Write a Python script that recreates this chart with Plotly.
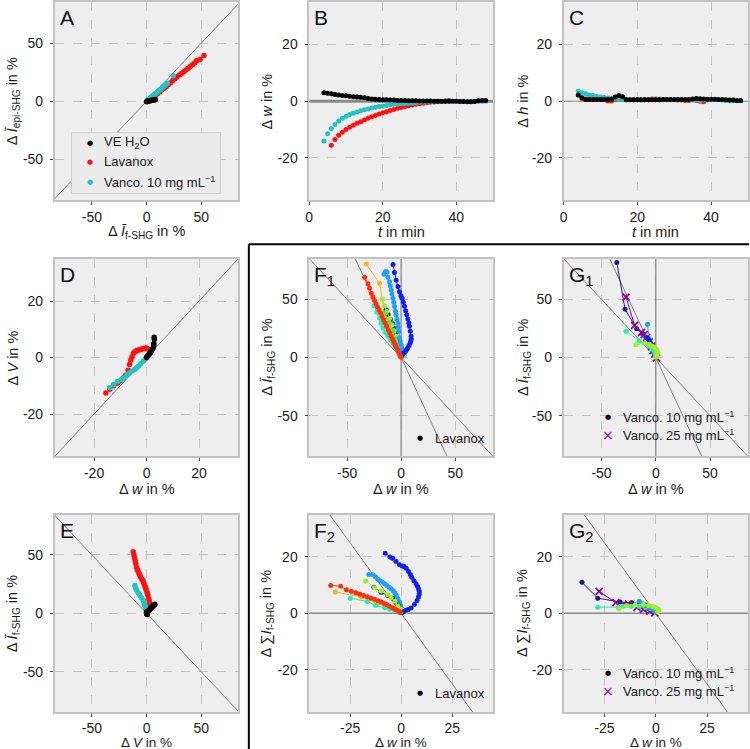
import plotly.graph_objects as go

W, H = 750, 749

# ---------------- data ----------------
# Panel A : dI_epi vs dI_f
A_black_x = [0, 0.5, 1, 1.5, 2, 3, 4, 5, 6, 7, 8, 7.5]
A_black_y = [-0.5, 0, -0.3, 0.2, 0.5, 0.3, 0.6, 0.8, 1.0, 1.2, 1.3, 1.6]
A_red_x = [2, 4, 6, 8, 10, 12, 14, 16, 18, 20, 22, 24, 26, 28, 30, 32, 34, 36, 38, 40, 42, 44, 46, 49, 52.5]
A_red_y = [0.5, 1.8, 3.2, 4.8, 6.4, 8.0, 9.6, 11.2, 12.8, 14.5, 16.0, 17.8, 19.3, 21.0, 22.5, 24.0, 25.5, 27.0, 28.5, 30.0, 31.5, 33.0, 35.0, 36.0, 39.5]
A_cyan_x = [1, 2, 3, 4, 5, 6, 7, 8, 9, 10, 11, 12, 13, 14, 15, 16, 17, 19, 24.5]
A_cyan_y = [0.8, 1.6, 2.4, 3.2, 4.0, 4.8, 5.6, 6.4, 7.2, 8.0, 8.8, 9.6, 10.4, 11.3, 12.2, 13.0, 14.0, 15.5, 22.0]

# Panel B : dw vs t ; Panel C : dh vs t
t_long = [4, 5, 6, 7, 8, 9, 10, 11, 12, 13, 14, 15, 16, 17, 18, 19, 20, 21, 22, 23, 24, 25, 26,
          27, 28, 29, 30, 31, 32, 33, 34, 35, 36, 37, 38, 39, 40, 41, 42, 43, 44, 45, 46, 47, 48]
t_red_B = [6, 7, 8, 9, 10, 11, 12, 13, 14, 15, 16, 17, 18, 19, 20, 21, 22, 23, 24, 25, 26, 27,
           28, 29, 30, 31, 32, 33, 34, 35, 36, 37, 38]
t_red_C = [5, 6, 7, 8, 9, 10, 11, 12, 13, 14, 15, 16, 17, 18, 19, 20, 21, 22, 23, 24, 25, 26,
           27, 28, 29, 30, 31, 32, 33, 34, 35, 36, 37, 38]
B_black = [3.0, 2.8, 2.6, 2.4, 2.2, 2.0, 1.9, 1.8, 1.6, 1.5, 1.4, 1.2, 1.0, 0.8, 0.7, 0.6, 0.5, 0.5,
           0.4, 0.4, 0.3, 0.3, 0.3, 0.2, 0.2, 0.2, 0.1, 0.1, 0.1, 0.1, 0.0, 0.0, 0.0, 0.0, 0.0, 0.0,
           0.0, -0.1, -0.1, -0.2, -0.2, -0.1, 0.2, 0.3, 0.3]
B_cyan = [-14.0, -11.5, -9.6, -8.2, -7.0, -6.0, -5.3, -4.7, -4.2, -3.8, -3.4, -3.0, -2.7, -2.4, -2.1,
          -1.9, -1.7, -1.5, -1.3, -1.1, -1.0, -0.9, -0.8, -0.7, -0.6, -0.5, -0.4, -0.3, -0.3, -0.2,
          -0.2, -0.1, -0.1, -0.1, 0.0, 0.0, 0.0, 0.0, 0.0, 0.0, 0.0, 0.0, 0.0, 0.0, 0.0]
B_red = [-15.5, -13.5, -12.0, -10.9, -10.0, -9.2, -8.5, -7.8, -7.2, -6.6, -6.0, -5.5, -5.0, -4.5,
         -4.1, -3.7, -3.3, -2.9, -2.5, -2.2, -1.9, -1.6, -1.3, -1.1, -0.9, -0.7, -0.5, -0.4, -0.3,
         -0.2, -0.1, 0.1, 0.3]
C_cyan = [3.5, 3.1, 2.6, 2.2, 2.0, 1.7, 1.5, 1.3, 1.1, 1.0, 0.9, 0.8, 0.6, 0.5, 0.5, 0.5, 0.5, 0.5,
          0.5, 0.5, 0.5, 0.5, 0.5, 0.5, 0.5, 0.5, 0.5, 0.5, 0.5, 0.5, 0.5, 0.4, 0.4, 0.3, 0.4, 0.5,
          0.5, 0.5, 0.5, 0.4, 0.3, 0.2, 0.2, 0.2, 0.2]
C_black = [2.2, 1.2, 0.6, 0.6, 0.6, 0.6, 0.6, 0.6, 0.6, 0.7, 1.5, 2.0, 1.6, 0.5, 0.5, 0.5, 0.5, 0.5,
           0.5, 0.5, 0.5, 0.5, 0.5, 0.6, 0.6, 0.6, 0.6, 0.6, 0.6, 0.6, 0.6, 0.8, 1.0, 0.9, 0.8, 0.7,
           0.7, 0.7, 0.6, 0.6, 0.5, 0.4, 0.4, 0.3, 0.3]
C_red = [1.0, 0.8, 0.6, 0.6, 0.6, 0.6, 0.6, 0.1, 0.1, 0.6, 0.8, 0.6, 0.5, 0.5, 0.5, 0.5, 0.5, 0.6,
         0.6, 0.8, 0.8, 0.7, 0.6, 0.5, 0.5, 0.5, 0.4, 0.4, 0.3, 0.3, 0.5, 0.3, 0.0, -0.2]

# Panel D : dV vs dw
D_red_x = [-15.5, -14, -12.5, -11, -10, -9, -8, -7, -6.5, -6, -5.5, -5, -4.5, -4, -3.5, -3, -2.5, -2, -1.5, -1, -0.5, 0, 0.5]
D_red_y = [-12.5, -11.2, -10, -9, -8.2, -7.3, -6.3, -4.5, -2.5, -1.0, 0.3, 1.5, 2.0, 2.3, 2.5, 2.7, 2.8, 3.0, 3.1, 3.2, 3.3, 3.4, 3.0]
D_cyan_x = [-14, -12.5, -11, -9.5, -8.75, -7.5, -6.5, -5.5, -4.5, -3.75, -3, -2.2, -1.25, -0.5, 0]
D_cyan_y = [-10.7, -9.5, -8.5, -7.8, -7.2, -6.3, -5.5, -4.8, -4.2, -3.6, -3.0, -2.2, -1.3, -0.6, 0]
D_black_x = [0, 0.3, 0.6, 1, 1.3, 1.6, 1.9, 2.2, 2.5, 2.7, 2.8, 3, 2.9]
D_black_y = [0, 0.4, 0.8, 1.2, 1.6, 2.0, 2.4, 2.9, 3.5, 4.2, 5.0, 6.5, 7.2]

# Panel E : dI_f vs dV
E_red_x = [-12.2, -11.5, -11, -10.4, -9.8, -9.1, -8.4, -7.6, -6.8, -6, -5.2, -4.4, -3.6, -3, -2.4, -1.8, -1.2, -0.6, 0, 0.6, 1.2, 1.8, 2.4, 3, 3.3, 3.5]
E_red_y = [52.8, 50, 47.5, 45.3, 42.5, 39.5, 37.4, 35.6, 34, 32.5, 31, 29.5, 28.5, 27, 25.5, 24, 22.5, 21, 19.6, 17.5, 15.5, 13, 11, 8.5, 6.8, 5]
E_cyan_x = [-10.7, -9.8, -9, -7.5, -6, -4.5, -3, -2.2, -1.5, -0.8, 0]
E_cyan_y = [23.9, 21.5, 19.6, 17.5, 15.3, 13.2, 11, 9, 6.8, 4.7, 2.6]
E_black_x = [0, 0.3, 0.8, 1.5, 2.2, 3, 3.8, 4.6, 5.4, 6.2, 7, 7.6, 0, 0.5]
E_black_y = [0, -0.5, 1, 1.8, 2.6, 3.4, 4.2, 5, 5.8, 6.5, 7.2, 7.8, 1.2, -1.0]

# Panel F1 : dI_f vs dw (Lavanox samples)
F1_blue_x = [-7.5, -6.2, -4.6, -3, -1.5, -0.2, 0.9, 2, 3.1, 4.2, 5.2, 6.2, 7.1, 7.7, 8.5, 9.2, 9.3, 8.9, 8.3, 7.3, 6.1, 5, 4, 2.8, 1.5, 0.5]
F1_blue_y = [80, 73, 66.5, 61, 56.5, 53, 51, 47.5, 44, 40.3, 36.7, 33.3, 30, 26.8, 22.5, 18.2, 16, 14, 12.5, 10.3, 8.2, 6.8, 5.4, 4.2, 3.2, 1.5]
F1_azure_x = [-15.8, -14.4, -13, -12.2, -10.7, -10, -9.2, -8.4, -7.6, -6.8, -6.1, -5.3, -4.6, -3.8, -3.1, -2.6, -2.1, -1.5, -0.8, 0, 0.6, 0.9, 0.4]
F1_azure_y = [71.5, 74, 73.5, 69, 65.2, 61.5, 58.1, 54.5, 51, 47.5, 43.8, 40, 36.7, 33, 29.6, 26, 22.5, 16.8, 13.8, 11, 8, 5.4, 1.5]
F1_orange_x = [-32.2, -20, -17.5, -15.3, -13, -10.7, -8.4, -6.1, -3.8, -1.5, 0]
F1_orange_y = [80.3, 63.8, 50, 39.6, 33.5, 28.2, 23, 18.2, 14, 9.7, 4]
F1_red_x = [-33.8, -30.7, -29.2, -27.6, -26.1, -24.6, -23.2, -21.8, -20.4, -19, -17.6, -16.2, -14.8, -13.4, -12, -10.6, -9.3, -8, -6.8, -5.6, -4.5, -3.4, -2.4, -1.5, -0.7, 0]
F1_red_y = [68.9, 63.5, 59.5, 55.2, 52, 49, 46.2, 43.5, 40.8, 38, 35.2, 32.4, 29.6, 26.8, 24, 21.2, 18.6, 16, 13.6, 11.2, 9, 6.8, 4.8, 3, 1.4, 0.3]
F1_green_x = [-17.5, -15.3, -13.2, -10.8, -8.3, -6.4, -4.6, -2.3, 0, 1.5, 3, 2, 0.8]
F1_green_y = [50, 44.5, 39.6, 33.5, 28.2, 23, 18.2, 14, 9.7, 6.5, 4, 2, 0.8]
F1_teal_x = [-25.1, -22.5, -20, -18.5, -16.9, -14.5, -12.3, -10, -7.6, -5.3, -3.1, -1.5, 0]
F1_teal_y = [44.4, 39, 33.8, 29.5, 25.3, 21.5, 18.2, 15, 12, 9.3, 6.8, 4.3, 2]
F1_navy_x = [-13.8, -12, -10, -8, -6.5, -5, -3.5, -2, -1, 0, 0.5]
F1_navy_y = [41, 37, 33, 29, 25, 21, 17, 13, 9, 5, 2]
F1_lime_x = [-15, -11, -8, -5, -2.5, -0.5, 0.5, 2.5, 4, 3]
F1_lime_y = [38, 30, 23, 16, 10, 5, 1.5, 4.5, 6, 2]

# Panel G1 : dI_f vs dw (Vancomycin samples)
G1_navy_x = [-35.9, -28.3, -17.6, -12.2, -9, -6.5, -4.5, -3, -1.8, -0.8, 0]
G1_navy_y = [81.7, 41.5, 24.8, 20.5, 17.5, 14.5, 11.5, 9, 6.5, 4, 1.5]
G1_purple_x = [-27.4, -19.5, -13.1, -10.7, -8.5, -6, -4, -2.5, -1, 0.6]
G1_purple_y = [52, 27.6, 21.6, 19.6, 17.4, 13.5, 9.5, 6, 3, -0.3]
G1_azure_x = [-7.6, -7, -6.2, -5, -3.5, -2, -0.8, 0]
G1_azure_y = [28.7, 17, 14.5, 12, 9.5, 7, 4.5, 2]
G1_blue_x = [-8, -6.5, -5, -3.5, -2, -1, 0]
G1_blue_y = [17, 15, 12.5, 10, 7, 4, 1]
G1_teal_x = [-27.4, -15.2, -10, -6, -3.5, -1.8, -0.5, 0.3]
G1_teal_y = [22.5, 14.5, 12, 9.8, 7.8, 5.5, 3.5, 1.5]
G1_green_x = [-18.3, -10, -6, -3.5, -2, -0.5, 0.5, 1.2, 1.5, 1.2, 0.6, 0]
G1_green_y = [11.1, 12.5, 11.5, 10, 9, 8, 7, 5.5, 4, 2.5, 1.2, 0.3]

# Panel F2 : d sum I_f vs dw (Lavanox samples)
F2_blue_x = [-7.8, -5.5, -4.1, -2.5, -0.8, 0.5, 1.3, 2.5, 3.6, 4.5, 5.2, 6.3, 7.3, 8, 8.5, 8.9, 8.9, 8.5, 7.8, 6.5, 4.9, 3.5, 2.4, 1.3, 0.4]
F2_blue_y = [21.3, 20, 19.5, 18.4, 17.2, 16.8, 16.7, 16, 14.8, 13.8, 12.8, 11.6, 10.5, 9.6, 8.7, 7.8, 6.9, 5.8, 4.6, 3.1, 1.9, 1.4, 1.1, 0.7, 0.3]
F2_azure_x = [-15.8, -13.8, -12.6, -11.4, -10.2, -9.1, -8.1, -7, -5.9, -4.9, -3.9, -3.1, -2.4, -1.6, -0.8, -0.2, 0.3]
F2_azure_y = [13.8, 13.7, 13, 12.2, 11.5, 11, 10.5, 9.9, 9.3, 8.7, 8, 7.2, 6.3, 5.2, 4, 2.8, 1.6]
F2_red_x = [-34.5, -29.6, -26.8, -24.4, -22.2, -20.2, -18.3, -16.5, -14.7, -13, -11.4, -9.9, -8.5, -7.1, -5.8, -4.6, -3.5, -2.5, -1.6, -0.8, -0.2]
F2_red_y = [9.9, 9.6, 8.4, 7.8, 7.3, 6.8, 6.3, 5.9, 5.4, 5, 4.5, 4.1, 3.6, 3.1, 2.6, 2.1, 1.7, 1.3, 0.9, 0.6, 0.3]
F2_orange_x = [-32.2, -19.5, -12, -6, -2.5, -0.5]
F2_orange_y = [7.6, 5.8, 3.6, 1.9, 0.9, 0.3]
F2_teal_x = [-24.9, -16.6, -12.5, -8.1, -5.5, -3.2, -1.8, -0.8]
F2_teal_y = [5.4, 4.2, 2.8, 2, 1.5, 1.2, 0.8, 0.3]
F2_green_x = [-17.4, -13, -9.8, -6.5, -4.9, -2.9, -1.5, 0, 1.6, 3.3, 2.5]
F2_green_y = [11.5, 9.1, 7.9, 6.6, 5.5, 4.3, 2.5, 1.5, 1, 1.1, 0.6]
F2_navy_x = [-13.3, -9.8, -6.5, -4.1, -2.5, -1.2, -0.3]
F2_navy_y = [9.3, 7.5, 6.3, 5.4, 4, 2.5, 1]

# Panel G2 : d sum I_f vs dw (Vancomycin samples)
G2_navy_x = [-36, -28.3, -17.4, -11.8, -7.8, -5, -3, -1.5, -0.5]
G2_navy_y = [11, 5.4, 4, 3.8, 3.5, 3, 2.4, 1.6, 0.8]
G2_purple_x = [-27.6, -19.5, -13.3, -9.2, -6, -2.9, -0.5]
G2_purple_y = [7.8, 3.8, 3.3, 2.1, 1.4, 0.8, 0.2]
G2_teal_x = [-28.3, -18.3, -15.8, -12, -8, -5, -2.5, -0.5, 0.5]
G2_teal_y = [2.2, 2.2, 2.5, 2.5, 2.4, 2.1, 1.6, 1, 0.8]
G2_green_x = [-17.9, -14.1, -10, -6, -3.5, -1.5, 0, 1, 1.5, 1]
G2_green_y = [1.6, 2.7, 3, 3.1, 2.8, 2.4, 2, 1.6, 1, 0.5]
G2_azure_x = [-8.1, -6.5, -4.5, -2.5, -1, 0]
G2_azure_y = [4.3, 3.4, 2.6, 1.9, 1.2, 0.5]

# ---------------- styling ----------------
C_BLACK, C_RED, C_CYAN = "#000000", "#ff1111", "#22c3c3"
J_NAVY, J_BLUE, J_AZURE, J_TEAL = "#1a1a8f", "#1020f0", "#20a0f5", "#22eeb0"
J_GREEN, J_LIME, J_ORANGE, J_RED, J_PURPLE = "#9ef020", "#60e040", "#ffb01a", "#ff3010", "#990099"

FONT = "Liberation Sans, Arial, sans-serif"
cols = [(51, 236), (307.3, 492.3), (563.3, 749)]
rows = [(0, 199), (257.3, 455.7), (514, 712)]

def fx(p):
    return p / W

def fy(p):
    return 1 - p / H

def tt(vals):
    return [str(v) for v in vals]

# panel id: (col, row, xrange, yrange, xticks, yticks)
panels = {
    1: (0, 0, [-84, 84], [-85.5, 85.5], [-50, 0, 50], [-50, 0, 50]),
    2: (1, 0, [0, 50], [-35, 35], [0, 20, 40], [-20, 0, 20]),
    3: (2, 0, [0, 50], [-35, 35], [0, 20, 40], [-20, 0, 20]),
    4: (0, 1, [-35, 35], [-35, 35], [-20, 0, 20], [-20, 0, 20]),
    5: (1, 1, [-85, 85], [-85, 85], [-50, 0, 50], [-50, 0, 50]),
    6: (2, 1, [-85, 85], [-85, 85], [-50, 0, 50], [-50, 0, 50]),
    7: (0, 2, [-84, 84], [-84.5, 84.5], [-50, 0, 50], [-50, 0, 50]),
    8: (1, 2, [-45, 45], [-35, 35], [-25, 0, 25], [-20, 0, 20]),
    9: (2, 2, [-45, 45], [-35, 35], [-25, 0, 25], [-20, 0, 20]),
}

layout = dict(
    width=W, height=H, margin=dict(l=0, r=0, t=0, b=0),
    paper_bgcolor="white", plot_bgcolor="#eeeeee",
    showlegend=False, font=dict(family=FONT, size=14, color="#1a1a1a"),
)

common = dict(showline=True, mirror=True, linecolor="#c2c2c2", linewidth=1.5,
              showgrid=True, gridcolor="#c4c4c4", griddash="dash", gridwidth=0.8,
              zeroline=False, ticks="outside", ticklen=3, tickcolor="#444", tickwidth=1,
              tickfont=dict(family=FONT, size=14, color="#1a1a1a"), fixedrange=True)

for n, (c, r, xr, yr, xt, yt) in panels.items():
    sfx = "" if n == 1 else str(n)
    layout["xaxis" + sfx] = dict(common, domain=[fx(cols[c][0]), fx(cols[c][1])], range=xr,
                                 anchor="y" + sfx, tickvals=xt, ticktext=tt(xt),
                                 ticklabelstandoff=(-1 if r == 2 else 0))
    layout["yaxis" + sfx] = dict(common, domain=[fy(rows[r][1]), fy(rows[r][0])], range=yr,
                                 anchor="x" + sfx, tickvals=yt, ticktext=tt(yt),
                                 ticklabelstandoff=4)

fig = go.Figure()
fig.update_layout(**layout)

def pts(n, x, y, color, size=5.5, symbol="circle"):
    sfx = "" if n == 1 else str(n)
    fig.add_trace(go.Scatter(x=x, y=y, mode="markers", xaxis="x" + sfx, yaxis="y" + sfx,
                             marker=dict(color=color, size=size, symbol=symbol, line=dict(width=0)),
                             hoverinfo="skip"))

def path(n, x, y, color, symbol="circle", size=5):
    sfx = "" if n == 1 else str(n)
    mk = dict(color=color, size=size, symbol=symbol)
    if symbol == "x-thin":
        mk = dict(color=color, size=7, symbol="x-thin", line=dict(width=1.8, color=color))
    fig.add_trace(go.Scatter(x=x, y=y, mode="lines+markers", xaxis="x" + sfx, yaxis="y" + sfx,
                             line=dict(color=color, width=1), marker=mk, hoverinfo="skip"))

# A
pts(1, A_red_x, A_red_y, C_RED)
pts(1, A_cyan_x, A_cyan_y, C_CYAN)
pts(1, A_black_x, A_black_y, C_BLACK)
# B
pts(2, t_red_B, B_red, C_RED, 5)
pts(2, t_long, B_cyan, C_CYAN, 5)
pts(2, t_long, B_black, C_BLACK, 5)
# C
pts(3, t_red_C, C_red, C_RED, 5)
pts(3, t_long, C_cyan, C_CYAN, 5)
pts(3, t_long, C_black, C_BLACK, 5)
# D
pts(4, D_red_x, D_red_y, C_RED)
pts(4, D_cyan_x, D_cyan_y, C_CYAN)
pts(4, D_black_x, D_black_y, C_BLACK)
# E
pts(7, E_red_x, E_red_y, C_RED)
pts(7, E_cyan_x, E_cyan_y, C_CYAN)
pts(7, E_black_x, E_black_y, C_BLACK)
# F1
path(5, F1_orange_x, F1_orange_y, J_ORANGE)
path(5, F1_teal_x, F1_teal_y, J_TEAL)
path(5, F1_navy_x, F1_navy_y, J_NAVY)
path(5, F1_green_x, F1_green_y, J_GREEN)
path(5, F1_lime_x, F1_lime_y, J_LIME)
path(5, F1_azure_x, F1_azure_y, J_AZURE)
path(5, F1_blue_x, F1_blue_y, J_BLUE)
path(5, F1_red_x, F1_red_y, J_RED)
# G1
path(6, G1_navy_x, G1_navy_y, J_NAVY)
path(6, G1_purple_x, G1_purple_y, J_PURPLE, symbol="x-thin")
path(6, G1_azure_x, G1_azure_y, J_AZURE)
path(6, G1_blue_x, G1_blue_y, J_BLUE)
path(6, G1_teal_x, G1_teal_y, J_TEAL)
path(6, G1_green_x, G1_green_y, J_GREEN)
# F2
path(8, F2_orange_x, F2_orange_y, J_ORANGE)
path(8, F2_teal_x, F2_teal_y, J_TEAL)
path(8, F2_azure_x, F2_azure_y, J_AZURE)
path(8, F2_navy_x, F2_navy_y, J_NAVY)
path(8, F2_green_x, F2_green_y, J_GREEN)
path(8, F2_blue_x, F2_blue_y, J_BLUE)
path(8, F2_red_x, F2_red_y, J_RED)
# G2
path(9, G2_navy_x, G2_navy_y, J_NAVY)
path(9, G2_purple_x, G2_purple_y, J_PURPLE, symbol="x-thin")
path(9, G2_teal_x, G2_teal_y, J_TEAL)
path(9, G2_azure_x, G2_azure_y, J_AZURE)
path(9, G2_green_x, G2_green_y, J_GREEN)

# ---------------- reference lines ----------------
shapes = []

def ref(n, x0, y0, x1, y1, color="#808080", width=1):
    sfx = "" if n == 1 else str(n)
    shapes.append(dict(type="line", xref="x" + sfx, yref="y" + sfx, x0=x0, y0=y0, x1=x1, y1=y1,
                       line=dict(color=color, width=width), layer="between"))

ref(1, -85.5, -85.5, 85.5, 85.5)
ref(2, 0, 0, 50, 0, "#8a8a8a", 3)
ref(3, 0, 0, 50, 0, "#8a8a8a", 1)
ref(4, -35, -35, 35, 35)
ref(7, -85, 85, 85, -85)
for n in (5, 6):
    ref(n, 0, -85, 0, 85, "#8a8a8a", 1.3)
    ref(n, -85, 85, 85, -85)
    ref(n, -42.5, 85, 42.5, -85)
for n in (8, 9):
    ref(n, -45, 0, 45, 0, "#8a8a8a", 1.5)
    ref(n, -35, 35, 35, -35)

# separator around F/G block
shapes.append(dict(type="line", xref="paper", yref="paper", x0=fx(246.5), x1=fx(246.5),
                   y0=0, y1=fy(243), line=dict(color="black", width=2)))
shapes.append(dict(type="line", xref="paper", yref="paper", x0=fx(246.5), x1=1,
                   y0=fy(243), y1=fy(243), line=dict(color="black", width=2)))
# legend box of panel A
shapes.append(dict(type="rect", xref="paper", yref="paper", x0=fx(68), x1=fx(218),
                   y0=fy(192), y1=fy(131), fillcolor="#ececec",
                   line=dict(color="#cfcfcf", width=1)))
fig.update_layout(shapes=shapes)

# ---------------- text ----------------
ann = []

def text(px, py, s, size=14, angle=0, xanchor="center", yanchor="middle", color="#1a1a1a", family=FONT):
    ann.append(dict(x=fx(px), y=fy(py), xref="paper", yref="paper", text=s, showarrow=False,
                    textangle=angle, xanchor=xanchor, yanchor=yanchor,
                    font=dict(size=size, color=color, family=family)))

IBAR = "<i>I\u0304</i>"
t_If = "\u0394 " + IBAR + "<sub>f-SHG</sub> in %"
t_Iepi = "\u0394 " + IBAR + "<sub>epi-SHG</sub> in %"
t_w = "\u0394 <i>w</i> in %"
t_V = "\u0394 <i>V</i> in %"
t_h = "\u0394 <i>h</i> in %"
t_t = "<i>t</i> in min"
t_S = "\u0394 \u2211<i>I</i><sub>f-SHG</sub> in %"

xt_y = [231, 488, 742]
yt_x = [9, 265, 523]
ccen = [(a + b) / 2 for a, b in cols]
rcen = [(a + b) / 2 for a, b in rows]
titles = {
    1: (t_If, t_Iepi), 2: (t_t, t_w), 3: (t_t, t_h),
    4: (t_w, t_V), 5: (t_w, t_If), 6: (t_w, t_If),
    7: (t_V, t_If), 8: (t_w, t_S), 9: (t_w, t_S),
}
letters = {1: "A", 2: "B", 3: "C", 4: "D", 5: "F<sub>1</sub>", 6: "G<sub>1</sub>",
           7: "E", 8: "F<sub>2</sub>", 9: "G<sub>2</sub>"}
for n, (c, r, *_rest) in panels.items():
    xtitle, ytitle = titles[n]
    text(ccen[c], xt_y[r], xtitle, size=(13.5 if r == 2 else 14.5))
    text(yt_x[c], rcen[r], ytitle, size=14.5, angle=-90)
    text(cols[c][0] + 3, rows[r][0] + 2, letters[n], size=21, xanchor="left", yanchor="top",
         color="#111")

# legend of panel A
SYM = "DejaVu Sans"
leg_rows = [(141, "VE H<sub>2</sub>O", C_BLACK), (160, "Lavanox", C_RED),
            (180, "Vanco. 10 mg mL<sup>\u22121</sup>", C_CYAN)]
for py, s, col in leg_rows:
    text(87, py, "\u25cf", size=7, color=col, family=SYM)
    text(99, py, s, size=13, xanchor="left")

# legends of F and G panels
for py in (437.3, 693.3):
    text(418.3, py, "\u25cf", size=7, color="black", family=SYM)
    text(432, py, "Lavanox", size=13, xanchor="left")
for py0 in (415.7, 672.3):
    text(608.3, py0, "\u25cf", size=7, color="black", family=SYM)
    text(621.5, py0, "Vanco. 10 mg mL<sup>\u22121</sup>", size=13, xanchor="left")
    text(608.3, py0 + 18.5, "\u00d7", size=14, color=J_PURPLE, family=SYM)
    text(621.5, py0 + 18.5, "Vanco. 25 mg mL<sup>\u22121</sup>", size=13, xanchor="left")

fig.update_layout(annotations=ann)
fig.write_html("out.html")
